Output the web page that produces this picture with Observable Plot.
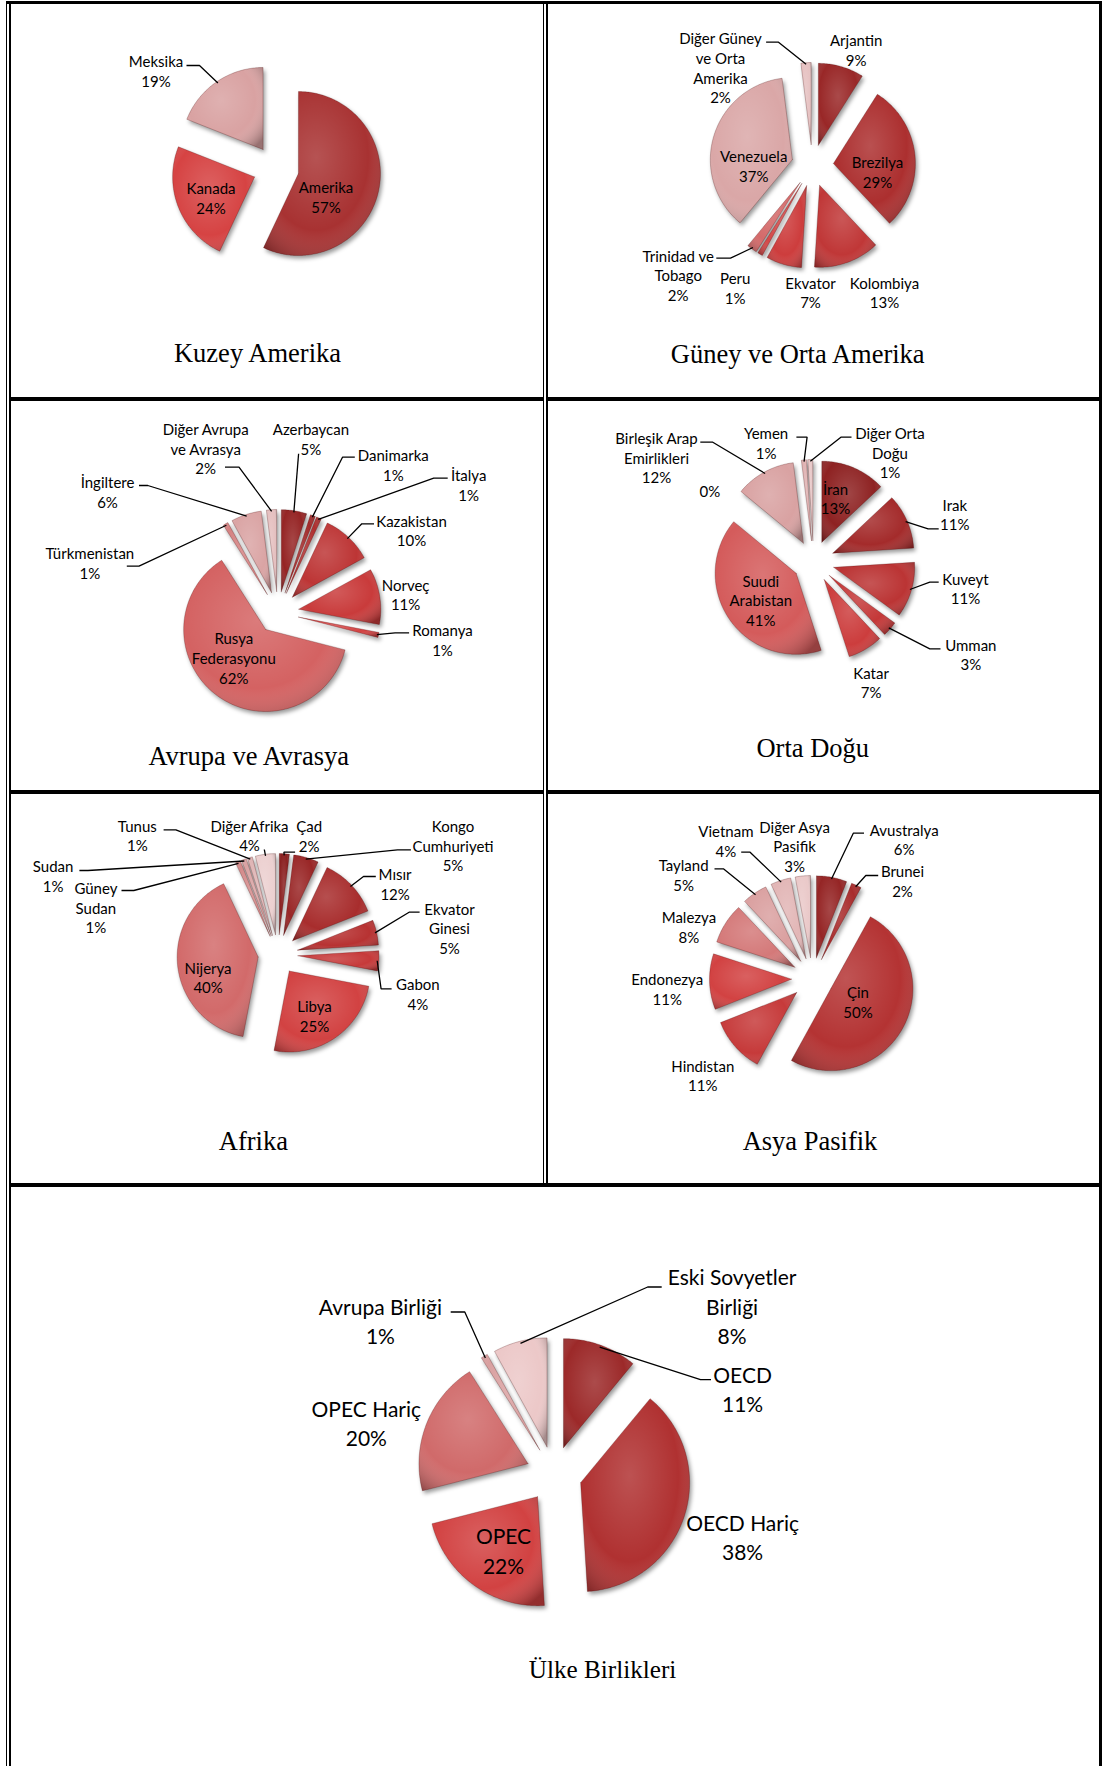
<!DOCTYPE html>
<html>
<head>
<meta charset="utf-8">
<script src="https://cdn.jsdelivr.net/npm/d3@7"></script>
<script src="https://cdn.jsdelivr.net/npm/@observablehq/plot@0.6"></script>
<style>
html, body { margin: 0; padding: 0; background: #fff; }
#page { position: relative; width: 1103px; height: 1766px; overflow: hidden; background: #fff; }
.rule { position: absolute; background: #000; }
.chart { position: absolute; }
.chart svg { display: block; }
.ttl { position: absolute; font-family: "Liberation Serif", "Times New Roman", serif; color: #000;
       white-space: nowrap; text-align: center; line-height: normal; }
</style>
</head>
<body>
<svg width="0" height="0" style="position:absolute">
  <defs>
    <radialGradient id="bevel" cx="0.45" cy="0.4" r="0.72">
      <stop offset="0" stop-color="#ffffff" stop-opacity="0.16"/>
      <stop offset="0.62" stop-color="#ffffff" stop-opacity="0"/>
      <stop offset="1" stop-color="#000000" stop-opacity="0.30"/>
    </radialGradient>
    <filter id="soft" x="-20%" y="-20%" width="140%" height="140%">
      <feGaussianBlur stdDeviation="2"/>
    </filter>
  </defs>
</svg>
<div id="page"></div>
<script>
// ---------------- DATA ----------------
const kuzeyNames = ["Amerika", "Kanada", "Meksika"];
const kuzeyValues = [57, 24, 19];

const guneyNames = ["Arjantin", "Brezilya", "Kolombiya", "Ekvator", "Peru", "Trinidad ve\nTobago", "Venezuela", "Diğer Güney\nve Orta\nAmerika"];
const guneyValues = [9, 29, 13, 7, 1, 2, 37, 2];

const avrupaNames = ["Azerbaycan", "Danimarka", "İtalya", "Kazakistan", "Norveç", "Romanya", "Rusya\nFederasyonu", "Türkmenistan", "İngiltere", "Diğer Avrupa\nve Avrasya"];
const avrupaValues = [5, 1, 1, 10, 11, 1, 62, 1, 6, 2];

const ortaNames = ["İran", "Irak", "Kuveyt", "Umman", "Katar", "Suudi\nArabistan", "", "Birleşik Arap\nEmirlikleri", "Yemen", "Diğer Orta\nDoğu"];
const ortaValues = [13, 11, 11, 3, 7, 41, 0, 12, 1, 1];

const afrikaNames = ["Çad", "Kongo\nCumhuriyeti", "Mısır", "Ekvator\nGinesi", "Gabon", "Libya", "Nijerya", "Güney\nSudan", "Sudan", "Tunus", "Diğer Afrika"];
const afrikaValues = [2, 5, 12, 5, 4, 25, 40, 1, 1, 1, 4];

const asyaNames = ["Avustralya", "Brunei", "Çin", "Hindistan", "Endonezya", "Malezya", "Tayland", "Vietnam", "Diğer Asya\nPasifik"];
const asyaValues = [6, 2, 50, 11, 11, 8, 5, 4, 3];

const birlikNames = ["OECD", "OECD Hariç", "OPEC", "OPEC Hariç", "Avrupa Birliği", "Eski Sovyetler\nBirliği"];
const birlikValues = [11, 38, 22, 20, 1, 8];

const chartTitles = ["Kuzey Amerika", "Güney ve Orta Amerika", "Avrupa ve Avrasya", "Orta Doğu", "Afrika", "Asya Pasifik", "Ülke Birlikleri"];

// ---------------- STYLES ----------------
const paletteKuzey  = ["#a83232", "#d64343", "#d9a2a2"];
const paletteGuney  = ["#992727", "#ac2f2f", "#c03737", "#cd3d3d", "#d34848", "#d46a6a", "#daa7a7", "#e6c2c2"];
const paletteAvrupa = ["#952424", "#a22a2a", "#ae2f2f", "#bd3535", "#c93b3b", "#d24343", "#d46262", "#d58282", "#daa4a4", "#e5c0c0"];
const paletteOrta   = ["#8e2222", "#a42b2b", "#bb3434", "#c43838", "#cc3d3d", "#d45b5b", "#d47878", "#d9a2a2", "#e0b3b3", "#e8c8c8"];
const paletteAfrika = ["#8a2020", "#992626", "#a82d2d", "#b73232", "#c63a3a", "#d24242", "#d26a6a", "#d48a8a", "#d9a3a3", "#dfb5b5", "#ecd0d0"];
const paletteAsya   = ["#952525", "#a82c2c", "#b43333", "#c63a3a", "#d24242", "#d47979", "#daa0a0", "#e2b6b6", "#eac9c9"];
const paletteBirlik = ["#9c2929", "#b03131", "#d24242", "#d06a6a", "#d9a0a0", "#ecc8c8"];

// ---------------- LAYOUT (pixels; label/leader offsets relative to pie centre, y down) ----------------
const layoutKuzey = {cell: [11, 4, 532, 393], center: [275.5, 168], r: 82, explode: 23, font: 15, lh: 1.31, title: [257.5, 362, 26.5],
  labels: [[50, 28], [-65, 29], [-120, -98]],
  leaders: [null, null, [[-89.5, -103], [-76.5, -103]]]};
const layoutGuney = {cell: [548, 4, 551, 393], center: [812, 165], r: 82, explode: 21, font: 15, lh: 1.31, title: [797.7, 362.7, 26.5],
  labels: [[43.7, -115.7], [65, 6.3], [72, 126.7], [-2, 126.7], [-77.3, 122.2], [-134.3, 109.7], [-58.8, 0], [-92, -98]],
  leaders: [null, null, null, null, null, [[-96.2, 92.7], [-82, 92.7]], null, [[-46.4, -123.3], [-34, -123.3]]]};
const layoutAvrupa = {cell: [11, 401, 532, 389], center: [277.5, 612], r: 82, explode: 21, font: 15, lh: 1.31, title: [248.7, 765, 26.5],
  labels: [[32.9, -173.7], [115.3, -147.8], [190.7, -128], [133.5, -82.3], [127.6, -18.2], [164.5, 27.2], [-44.2, 45.2], [-188.1, -49.7], [-170.5, -121], [-72.3, -164.2]],
  leaders: [[[20.6, -158.7]], [[76.8, -155.3], [64.5, -155.3]], [[169.7, -134.3], [155.7, -134.3]], [[96, -88.7], [83.8, -88.7]], null,
            [[131.1, 20.3], [117.1, 20.3]], null, [[-151.2, -46.3], [-139, -46.3]], [[-139, -127], [-130.2, -127]], [[-53, -145.3], [-39, -145.3]]]};
const layoutOrta = {cell: [548, 401, 551, 389], center: [813, 561], r: 81, explode: 21, font: 15, lh: 1.31, title: [812.8, 757, 26.5],
  labels: [[22, -63.2], [141.3, -47.2], [152, 26.8], [157.3, 92.8], [57.6, 120.7], [-52.7, 38.5], [-103.6, -71], [-157, -104.2], [-47.4, -119], [76.5, -109]],
  leaders: [null, [[125.2, -32.7], [114.6, -32.7]], [[125.2, 20.7], [116.3, 20.7]], [[127, 87.3], [116.3, 87.3]], null, null, null,
            [[-113.2, -119.3], [-100.7, -119.3]], [[-17.1, -124.3], [-6.4, -124.3]], [[38, -124.3], [27.4, -124.3]]]};
const layoutAfrika = {cell: [11, 794, 532, 389], center: [277.5, 954], r: 81, explode: 20, font: 15, lh: 1.31, title: [253.4, 1150, 26.5],
  labels: [[31.2, -119], [175, -109], [117.1, -70.7], [171.5, -26.5], [139.9, 39.3], [36.5, 61], [-69.9, 22.7], [-182.1, -47], [-224.9, -78.7], [-140.7, -119.3], [-28.5, -119.3]],
  leaders: [[[17.1, -102.3], [5.9, -102.3]], [[132.9, -104.7], [119.5, -104.7]], [[97.8, -78], [85.5, -78]], [[141.6, -42.3], [131.1, -42.3]],
            [[113.6, 34.3], [103.1, 34.3]], null, null, [[-156.5, -64], [-144.2, -64]], [[-198.6, -84], [-190, -84]],
            [[-114.4, -124.7], [-102.1, -124.7]], [[-13.7, -105]]]};
const layoutAsya = {cell: [548, 794, 551, 389], center: [812, 978], r: 82, explode: 21, font: 15, lh: 1.31, title: [810, 1149.3, 26.5],
  labels: [[91.7, -139.2], [90, -98], [45.5, 22.9], [-109.7, 96.7], [-145.3, 10.3], [-123.6, -52], [-128.9, -103.8], [-86.6, -138], [-17.9, -132.5]],
  leaders: [[[51.5, -145.3], [40.8, -145.3]], [[65.7, -103], [53.3, -103]], null, null, null, null,
            [[-98, -109.7], [-89.1, -109.7]], [[-71.3, -126.3], [-62.4, -126.3]], null]};
const layoutBirlik = {cell: [11, 1187, 1088, 579], center: [553.5, 1473.5], r: 109, explode: 28, font: 21, lh: 1.4, title: [602.5, 1678, 25.2],
  labels: [[188.6, -86.1], [188.6, 61.9], [-50.5, 75.5], [-187.7, -51.9], [-173.6, -153.9], [178.1, -168.8]],
  leaders: [[[157, -94.3], [146.5, -94.3]], null, null, null, [[-103.3, -162], [-89.2, -162]], [[107.7, -187], [93.7, -187]]]};

const charts = [
  {names: kuzeyNames,  values: kuzeyValues,  palette: paletteKuzey,  layout: layoutKuzey,  title: chartTitles[0]},
  {names: guneyNames,  values: guneyValues,  palette: paletteGuney,  layout: layoutGuney,  title: chartTitles[1]},
  {names: avrupaNames, values: avrupaValues, palette: paletteAvrupa, layout: layoutAvrupa, title: chartTitles[2]},
  {names: ortaNames,   values: ortaValues,   palette: paletteOrta,   layout: layoutOrta,   title: chartTitles[3]},
  {names: afrikaNames, values: afrikaValues, palette: paletteAfrika, layout: layoutAfrika, title: chartTitles[4]},
  {names: asyaNames,   values: asyaValues,   palette: paletteAsya,   layout: layoutAsya,   title: chartTitles[5]},
  {names: birlikNames, values: birlikValues, palette: paletteBirlik, layout: layoutBirlik, title: chartTitles[6]}
];

// table rules [x, y, w, h]
const rules = [
  [6, 1, 1096, 3],
  [6, 1, 1, 1765],
  [9, 1, 2, 1765],
  [1099, 1, 3, 1765],
  [543, 1, 1, 1186],
  [546, 1, 2, 1186],
  [11, 397, 533, 4], [546, 397, 554, 4],
  [11, 790, 533, 4], [546, 790, 554, 4],
  [11, 1183, 1089, 4]
];

const page = document.getElementById("page");
for (const [x, y, w, h] of rules) {
  const d = document.createElement("div");
  d.className = "rule";
  Object.assign(d.style, {left: x + "px", top: y + "px", width: w + "px", height: h + "px"});
  page.appendChild(d);
}

function drawChart(c) {
  const L = c.layout;
  const [sx, sy, W, H] = L.cell;
  const ox = L.center[0] - sx, oy = L.center[1] - sy;
  const total = d3.sum(c.values);
  const arcs = d3.pie().sort(null).value(v => v)(c.values);
  const slicePts = [], labelData = [], leaderPts = [];
  arcs.forEach((a, i) => {
    const key = "s" + i;
    const name = c.names[i];
    const mid = (a.startAngle + a.endAngle) / 2;
    const ax = L.explode * Math.sin(mid), ay = L.explode * Math.cos(mid);
    if (a.value > 0) {
      slicePts.push({key, name, x: ax, y: ay});
      const steps = Math.max(2, Math.ceil((a.endAngle - a.startAngle) / (Math.PI / 180)));
      for (let k = 0; k <= steps; k++) {
        const t = a.startAngle + (a.endAngle - a.startAngle) * k / steps;
        slicePts.push({key, name, x: ax + L.r * Math.sin(t), y: ay + L.r * Math.cos(t)});
      }
      slicePts.push({key, name, x: ax, y: ay});
    }
    const pct = Math.round(a.value / total * 100) + "%";
    const [lx, ly] = L.labels[i];
    labelData.push({text: name ? name + "\n" + pct : pct, x: lx, y: -ly});
    const ld = L.leaders[i];
    if (ld) {
      for (const [px, py] of ld) leaderPts.push({key, x: px, y: -py});
      leaderPts.push({key, x: ax + 0.98 * L.r * Math.sin(mid), y: ay + 0.98 * L.r * Math.cos(mid)});
    }
  });

  const svg = Plot.plot({
    width: W, height: H, margin: 0,
    x: {domain: [-ox, W - ox], range: [0, W], axis: null},
    y: {domain: [-(H - oy), oy], range: [H, 0], axis: null},
    color: {type: "ordinal", domain: c.names, range: c.palette},
    style: {background: "transparent", overflow: "visible"},
    marks: [
      Plot.line(slicePts, {x: "x", y: "y", z: "key", fill: "rgba(0,0,0,0.4)", stroke: "none", dx: 2, dy: 3}),
      Plot.line(slicePts, {x: "x", y: "y", z: "key", fill: "name", stroke: "none"}),
      Plot.line(slicePts, {x: "x", y: "y", z: "key", fill: "url(#bevel)", stroke: "rgba(70,0,0,0.35)", strokeWidth: 0.7}),
      Plot.line(leaderPts, {x: "x", y: "y", z: "key", stroke: "#000", strokeWidth: 1.3, strokeLinecap: "butt", strokeLinejoin: "miter"}),
      Plot.text(labelData, {x: "x", y: "y", text: "text", fontFamily: "Lato", fontSize: L.font, lineHeight: L.lh,
                            fill: "#000", textAnchor: "middle", lineAnchor: "middle"})
    ]
  });
  const groups = svg.querySelectorAll('g[aria-label="line"]');
  if (groups.length) groups[0].setAttribute("filter", "url(#soft)");
  const wrap = document.createElement("div");
  wrap.className = "chart";
  wrap.style.left = sx + "px";
  wrap.style.top = sy + "px";
  wrap.appendChild(svg);
  page.appendChild(wrap);

  const [tx, tb, fs] = L.title;
  const t = document.createElement("div");
  t.className = "ttl";
  t.textContent = c.title;
  Object.assign(t.style, {left: (tx - 300) + "px", width: "600px", top: (tb - 0.891 * fs) + "px", fontSize: fs + "px"});
  page.appendChild(t);
}

charts.forEach(drawChart);
</script>
</body>
</html>
